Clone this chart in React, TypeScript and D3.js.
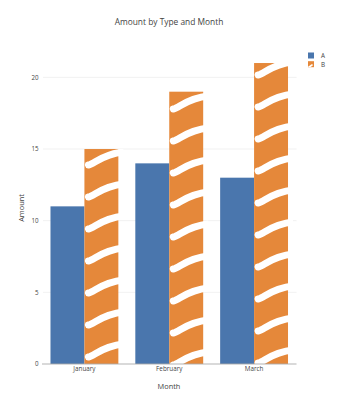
import React from "react";
import * as d3 from "d3";

const months = ["January", "February", "March"];
const types = ["A", "B"];
const seriesA = [11, 14, 13];
const seriesB = [15, 19, 21];
const yTicks = [0, 5, 10, 15, 20];
const colors = ["#4a76ad", "#e5883a"];

const W = 349;
const H = 400;
const FONT = "'Open Sans', Verdana, Arial, sans-serif";

export default function App() {
  const x = d3.scaleBand<string>().domain(months).range([42, 296.5]).paddingInner(0.2).paddingOuter(0.1);
  const xi = d3.scaleBand<string>().domain(types).range([0, x.bandwidth()]);
  const y = d3.scaleLinear().domain([0, 22]).range([364, 48.7]);

  const rows = months.map((m, i) => ({ m, A: seriesA[i], B: seriesB[i] }));
  const spacing = 32;
  const phases = [7, -1, 1];

  const hatch = (x0: number, w: number, yb: number, yt: number, phase: number) => {
    const paths: string[] = [];
    const h = 12;
    for (let yy = yb - phase; yy > yt - h - 8; yy -= spacing) {
      const p = d3.path();
      p.moveTo(x0 + 4, yy);
      p.bezierCurveTo(x0 + w * 0.3, yy - 1.5, x0 + w * 0.55, yy - h + 1, x0 + w + 5, yy - h - 1);
      paths.push(p.toString());
    }
    return paths;
  };

  return (
    <svg width={W} height={H} style={{ position: "absolute", left: 0, top: 0, background: "#fff" }}>
      <defs>
        {rows.map((r, i) => {
          const bx = (x(r.m) as number) + (xi("B") as number);
          return (
            <clipPath id={`clipB${i}`} key={i}>
              <rect x={bx - 3} y={y(r.B)} width={xi.bandwidth() + 8} height={y(0) - y(r.B)} />
            </clipPath>
          );
        })}
        <clipPath id="legClip">
          <rect x={308} y={61} width={6} height={6} />
        </clipPath>
      </defs>
      <text x={169} y={25} textAnchor="middle" fontFamily={FONT} fontSize={8.4} fill="#444">
        Amount by Type and Month
      </text>
      {yTicks.filter((t) => t > 0).map((t) => (
        <line key={t} x1={43} x2={296.5} y1={y(t)} y2={y(t)} stroke="#eee" strokeWidth={0.8} />
      ))}
      {yTicks.map((t) => (
        <text key={t} x={38.5} y={y(t) + 2.2} textAnchor="end" fontFamily={FONT} fontSize={6.2} fill="#444">
          {t}
        </text>
      ))}
      {rows.map((r, i) => {
        const gx = x(r.m) as number;
        const ax = gx + (xi("A") as number);
        const bx = gx + (xi("B") as number);
        const bw = xi.bandwidth();
        return (
          <g key={r.m}>
            <rect x={ax} y={y(r.A)} width={bw} height={y(0) - y(r.A)} fill={colors[0]} />
            <rect x={bx} y={y(r.B)} width={bw} height={y(0) - y(r.B)} fill={colors[1]} />
            <g clipPath={`url(#clipB${i})`}>
              {hatch(bx, bw, y(0), y(r.B), phases[i]).map((d, k) => (
                <path key={k} d={d} fill="none" stroke="#fff" strokeWidth={7} strokeLinecap="round" />
              ))}
            </g>
          </g>
        );
      })}
      <line x1={42} x2={296.5} y1={y(0)} y2={y(0)} stroke="#aaa" strokeWidth={0.9} />
      {months.map((m) => (
        <text key={m} x={(x(m) as number) + x.bandwidth() / 2} y={371} textAnchor="middle" fontFamily={FONT} fontSize={6.3} fill="#444">
          {m}
        </text>
      ))}
      <text x={169} y={388.5} textAnchor="middle" fontFamily={FONT} fontSize={7.4} fill="#444">
        Month
      </text>
      <text transform={`translate(24,${208}) rotate(-90)`} textAnchor="middle" fontFamily={FONT} fontSize={7.4} fill="#444">
        Amount
      </text>
      {types.map((t, i) => (
        <g key={t} transform={`translate(308,${52.5 + i * 8.7})`}>
          <rect x={0} y={0} width={6} height={6} fill={colors[i]} />
          {i === 1 && (
            <g clipPath="url(#legClip)" transform="translate(-308,-61.2)">
              <line x1={308.5} y1={67.5} x2={312} y2={65} stroke="#fff" strokeWidth={1.6} strokeLinecap="round" />
            </g>
          )}
          <text x={13} y={5.3} fontFamily={FONT} fontSize={6.3} fill="#444">
            {t}
          </text>
        </g>
      ))}
    </svg>
  );
}
